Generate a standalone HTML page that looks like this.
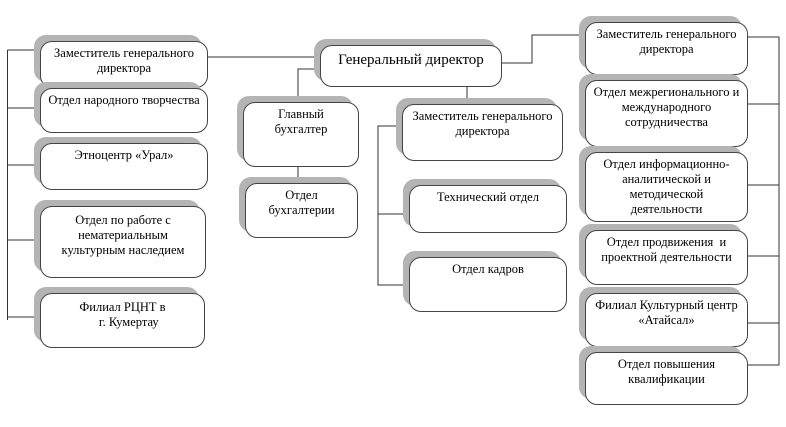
<!DOCTYPE html>
<html><head><meta charset="utf-8"><style>
body{margin:0;width:786px;height:427px;background:#fff;position:relative;overflow:hidden;font-family:"Liberation Serif",serif;}
.b{position:absolute;box-sizing:border-box;border:1.3px solid #444;border-radius:12px;background:#fff;box-shadow:-6px -6px 0 #b4b4b4;text-align:center;font-size:12.5px;line-height:15px;color:#000;padding-top:4px;}
svg{position:absolute;left:0;top:0;}
</style></head><body>
<svg width="786" height="427"><g stroke="#333" stroke-width="1" fill="none">
<path d="M7.5 50V320M7.5 50H40M7.5 108H40M7.5 165H40M7.5 240H40M7.5 317H40"/>
<path d="M208 57H320"/>
<path d="M502 63H532V35H585"/>
<path d="M320 69H298V102M298 167V183"/>
<path d="M467 87V104"/>
<path d="M402 126H378V285H409M378 214H409"/>
<path d="M748 37H779V365H748M748 104H779M748 185H779M748 256H779M748 323H779"/>
</g></svg>
<div class="b" style="left:40px;top:41px;width:168px;height:47px">Заместитель генерального<br>директора</div>
<div class="b" style="left:40px;top:88px;width:168px;height:45px">Отдел народного творчества</div>
<div class="b" style="left:40px;top:143px;width:168px;height:47px">Этноцентр «Урал»</div>
<div class="b" style="left:40px;top:206px;width:166px;height:72px;padding-top:6px">Отдел по работе с<br>нематериальным<br>культурным наследием</div>
<div class="b" style="left:40px;top:293px;width:165px;height:55px;padding-top:6px">Филиал РЦНТ в<br>&nbsp;&nbsp;&nbsp;&nbsp;г. Кумертау</div>
<div class="b" style="left:320px;top:45px;width:182px;height:42px;font-size:15px;padding-top:7px">Генеральный директор</div>
<div class="b" style="left:243px;top:102px;width:116px;height:65px">Главный<br>бухгалтер</div>
<div class="b" style="left:245px;top:183px;width:113px;height:55px">Отдел<br>бухгалтерии</div>
<div class="b" style="left:402px;top:104px;width:161px;height:57px">Заместитель генерального<br>директора</div>
<div class="b" style="left:409px;top:185px;width:158px;height:48px">Технический отдел</div>
<div class="b" style="left:409px;top:257px;width:158px;height:55px">Отдел кадров</div>
<div class="b" style="left:585px;top:22px;width:163px;height:53px">Заместитель генерального<br>директора</div>
<div class="b" style="left:585px;top:80px;width:163px;height:67px">Отдел межрегионального и<br>международного<br>сотрудничества</div>
<div class="b" style="left:585px;top:152px;width:163px;height:70px">Отдел информационно-<br>аналитической и<br>методической<br>деятельности</div>
<div class="b" style="left:585px;top:230px;width:163px;height:55px">Отдел продвижения &nbsp;и<br>проектной деятельности</div>
<div class="b" style="left:585px;top:293px;width:163px;height:54px">Филиал Культурный центр<br>«Атайсал»</div>
<div class="b" style="left:585px;top:352px;width:163px;height:53px">Отдел повышения<br>квалификации</div>
</body></html>
